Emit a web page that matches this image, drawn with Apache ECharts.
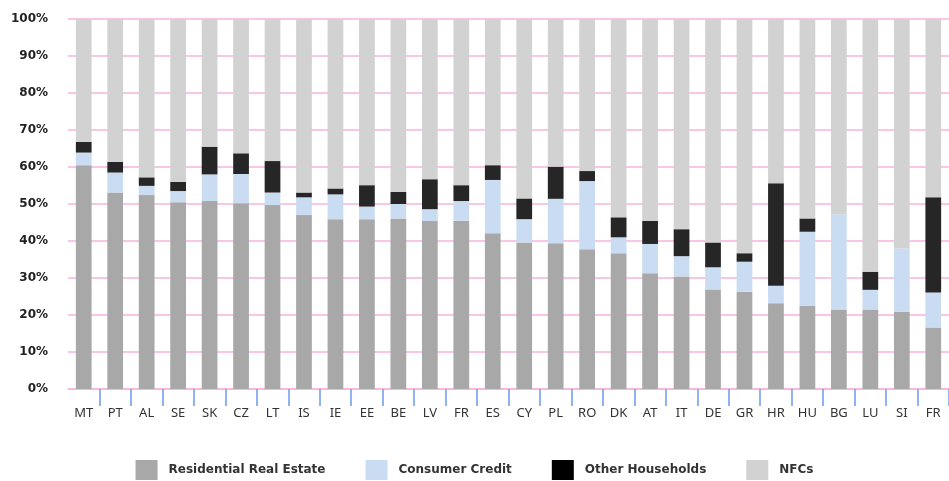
<!DOCTYPE html>
<html>
<head>
<meta charset="utf-8">
<script src="https://cdn.jsdelivr.net/npm/echarts@6/dist/echarts.min.js"></script>
<style>
	html, body { margin: 0; padding: 0; background: #fff; }
	#chart { width: 949px; height: 481px; }
</style>
</head>
<body>
<div id="chart"></div>
<script>
	// country codes (FR appears twice in the source chart)
	var countries = ['MT', 'PT', 'AL', 'SE', 'SK', 'CZ', 'LT', 'IS', 'IE', 'EE', 'BE', 'LV', 'FR', 'ES',
		'CY', 'PL', 'RO', 'DK', 'AT', 'IT', 'DE', 'GR', 'HR', 'HU', 'BG', 'LU', 'SI', 'FR'];

	// shares in % of total
	var residential = [60.5, 53.1, 52.4, 50.5, 50.8, 50.2, 49.7, 47.0, 45.9, 45.9, 46.1, 45.4, 45.5, 42.1,
		39.6, 39.4, 37.8, 36.7, 31.3, 30.4, 26.9, 26.3, 23.2, 22.5, 21.5, 21.5, 20.9, 16.6];
	var consumer = [3.4, 5.4, 2.5, 3.0, 7.2, 7.9, 3.4, 4.8, 6.7, 3.4, 3.9, 3.2, 5.3, 14.4,
		6.3, 12.0, 18.4, 4.3, 7.9, 5.5, 6.0, 8.1, 4.7, 20.0, 25.7, 5.3, 17.1, 9.5];
	var otherHouseholds = [2.9, 2.9, 2.3, 2.5, 7.5, 5.6, 8.5, 1.3, 1.6, 5.8, 3.3, 8.1, 4.3, 4.0,
		5.6, 8.7, 2.7, 5.4, 6.2, 7.3, 6.7, 2.3, 27.7, 3.6, 0, 4.9, 0, 25.7];
	var nfcs = [33.2, 38.6, 42.8, 44.0, 34.5, 36.3, 38.4, 46.9, 45.8, 44.9, 46.7, 43.3, 44.9, 39.5,
		48.5, 39.9, 41.1, 53.6, 54.6, 56.8, 60.4, 63.3, 44.4, 53.9, 52.8, 68.3, 62.0, 48.2];

	var myChart = echarts.init(document.getElementById('chart'));

	function barSeries(name, data, color) {
		return {
			name: name,
			type: 'bar',
			stack: 'total',
			barWidth: '50%',
			itemStyle: { color: color },
			emphasis: { disabled: true },
			data: data
		};
	}

	var option = {
		animation: false,
		grid: {
			left: 68,
			right: -4,
			top: 19,
			bottom: 92
		},
		legend: {
			top: 460,
			left: 'center',
			padding: 0,
			itemWidth: 22,
			itemHeight: 20,
			itemGap: 40,
			icon: 'rect',
			textStyle: {
				fontFamily: 'DejaVu Sans',
				fontSize: 12,
				fontWeight: 'bold',
				color: '#333',
				padding: [0, 0, 0, 6]
			},
			data: [
				{ name: 'Residential Real Estate' },
				{ name: 'Consumer Credit' },
				{ name: 'Other Households', itemStyle: { color: '#000' } },
				{ name: 'NFCs' }
			]
		},
		xAxis: {
			type: 'category',
			data: countries,
			axisLine: {
				lineStyle: { color: '#f7b3dc', width: 1.5 }
			},
			axisTick: {
				show: true,
				length: 17,
				// no tick at the left edge of the plot
				interval: function(index) {
					return index > 0;
				},
				lineStyle: { color: '#6c9cf0', width: 1.5 }
			},
			axisLabel: {
				interval: 0,
				margin: 18,
				fontFamily: 'Noto Sans',
				fontSize: 13,
				color: '#333'
			}
		},
		yAxis: {
			type: 'value',
			min: 0,
			max: 100,
			interval: 10,
			axisLine: { show: false },
			axisTick: { show: false },
			axisLabel: {
				margin: 20,
				fontFamily: 'DejaVu Sans',
				fontWeight: 'bold',
				fontSize: 12,
				color: '#222',
				formatter: '{value}%'
			},
			splitLine: {
				lineStyle: { color: '#f7b3dc', width: 1.5 }
			}
		},
		series: [
			barSeries('Residential Real Estate', residential, '#a9a8a9'),
			barSeries('Consumer Credit', consumer, '#c9dcf2'),
			barSeries('Other Households', otherHouseholds, '#262626'),
			barSeries('NFCs', nfcs, '#d2d2d2')
		]
	};

	myChart.setOption(option);
</script>
</body>
</html>
